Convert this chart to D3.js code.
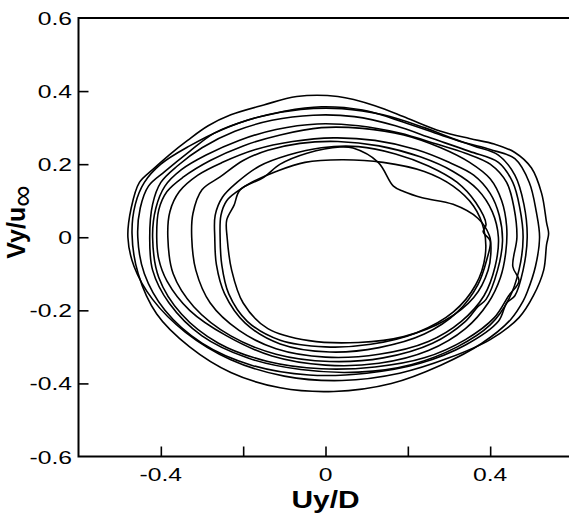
<!DOCTYPE html>
<html><head><meta charset="utf-8">
<script src="https://cdn.jsdelivr.net/npm/d3@7"></script>
<style>html,body{margin:0;padding:0;background:#fff;overflow:hidden}</style>
</head><body>
<svg id="c" width="569" height="514"></svg>
<script>
// ---- data (Uy/D, Vy/u∞), one array per orbit ----
const cycle1 = [[-0.480,0.000],[-0.472,0.080],[-0.452,0.150],[-0.420,0.185],[-0.380,0.225],[-0.335,0.265],[-0.285,0.305],[-0.230,0.335],[-0.150,0.362],[-0.070,0.385],[0.030,0.385],[0.120,0.360],[0.200,0.325],[0.280,0.290],[0.350,0.270],[0.410,0.255],[0.460,0.232],[0.500,0.190],[0.525,0.120],[0.537,0.040],[0.542,0.010],[0.537,-0.020],[0.530,-0.090],[0.505,-0.160],[0.470,-0.220],[0.400,-0.280],[0.300,-0.330],[0.180,-0.372],[0.040,-0.392],[-0.100,-0.380],[-0.230,-0.335],[-0.340,-0.260],[-0.420,-0.170],[-0.465,-0.080]];
const cycle2 = [[-0.470,0.010],[-0.462,0.090],[-0.440,0.150],[-0.400,0.200],[-0.330,0.250],[-0.250,0.295],[-0.160,0.330],[-0.060,0.350],[0.040,0.352],[0.140,0.335],[0.240,0.300],[0.330,0.262],[0.400,0.240],[0.460,0.215],[0.495,0.150],[0.512,0.070],[0.520,0.000],[0.510,-0.080],[0.490,-0.150],[0.480,-0.175],[0.450,-0.225],[0.380,-0.290],[0.280,-0.350],[0.160,-0.400],[0.020,-0.422],[-0.110,-0.412],[-0.230,-0.370],[-0.330,-0.300],[-0.410,-0.210],[-0.455,-0.100]];
const cycle3 = [[-0.456,0.000],[-0.450,0.080],[-0.430,0.140],[-0.390,0.180],[-0.330,0.235],[-0.270,0.285],[-0.190,0.320],[-0.100,0.345],[-0.010,0.357],[0.090,0.348],[0.190,0.315],[0.280,0.280],[0.360,0.250],[0.420,0.225],[0.460,0.170],[0.482,0.090],[0.490,0.000],[0.480,-0.090],[0.460,-0.160],[0.440,-0.180],[0.420,-0.230],[0.340,-0.295],[0.230,-0.345],[0.100,-0.372],[-0.040,-0.377],[-0.180,-0.350],[-0.300,-0.290],[-0.390,-0.200],[-0.440,-0.100]];
const cycle4 = [[-0.427,0.000],[-0.420,0.090],[-0.400,0.150],[-0.360,0.195],[-0.300,0.245],[-0.220,0.290],[-0.130,0.320],[-0.030,0.334],[0.070,0.330],[0.170,0.305],[0.260,0.270],[0.350,0.235],[0.420,0.205],[0.455,0.150],[0.472,0.080],[0.480,0.000],[0.470,-0.090],[0.445,-0.170],[0.400,-0.240],[0.320,-0.300],[0.210,-0.348],[0.080,-0.369],[-0.060,-0.362],[-0.190,-0.330],[-0.300,-0.270],[-0.380,-0.180],[-0.420,-0.090]];
const cycle5 = [[-0.420,0.000],[-0.412,0.080],[-0.390,0.140],[-0.350,0.185],[-0.290,0.225],[-0.210,0.265],[-0.120,0.295],[-0.020,0.310],[0.080,0.305],[0.180,0.285],[0.270,0.255],[0.340,0.230],[0.400,0.200],[0.440,0.150],[0.458,0.080],[0.465,0.000],[0.455,-0.080],[0.470,-0.120],[0.445,-0.160],[0.410,-0.220],[0.340,-0.280],[0.240,-0.330],[0.120,-0.355],[-0.010,-0.360],[-0.140,-0.340],[-0.260,-0.290],[-0.350,-0.210],[-0.405,-0.110]];
const cycle6 = [[-0.410,0.000],[-0.405,0.075],[-0.385,0.125],[-0.345,0.165],[-0.280,0.210],[-0.200,0.250],[-0.110,0.280],[-0.010,0.300],[0.090,0.298],[0.190,0.280],[0.280,0.245],[0.350,0.205],[0.400,0.160],[0.428,0.100],[0.440,0.030],[0.438,-0.040],[0.425,-0.110],[0.395,-0.180],[0.340,-0.250],[0.250,-0.310],[0.130,-0.345],[0.000,-0.350],[-0.130,-0.325],[-0.240,-0.270],[-0.330,-0.200],[-0.385,-0.120],[-0.405,-0.060]];
const cycle7 = [[-0.383,0.000],[-0.378,0.070],[-0.355,0.125],[-0.310,0.170],[-0.250,0.205],[-0.170,0.240],[-0.080,0.262],[0.020,0.272],[0.120,0.265],[0.220,0.240],[0.300,0.205],[0.360,0.170],[0.400,0.120],[0.422,0.060],[0.430,-0.010],[0.418,-0.090],[0.390,-0.170],[0.370,-0.190],[0.340,-0.230],[0.260,-0.290],[0.140,-0.330],[0.010,-0.340],[-0.120,-0.320],[-0.230,-0.270],[-0.320,-0.190],[-0.370,-0.100]];
const cycle8 = [[-0.325,0.000],[-0.322,0.065],[-0.300,0.130],[-0.256,0.165],[-0.200,0.210],[-0.140,0.238],[-0.062,0.257],[0.030,0.262],[0.130,0.250],[0.230,0.220],[0.310,0.180],[0.370,0.130],[0.405,0.070],[0.420,0.000],[0.412,-0.080],[0.385,-0.160],[0.330,-0.230],[0.250,-0.285],[0.130,-0.320],[0.000,-0.328],[-0.120,-0.305],[-0.210,-0.255],[-0.280,-0.180],[-0.315,-0.090]];
const cycle9 = [[-0.269,0.000],[-0.268,0.060],[-0.250,0.110],[-0.215,0.150],[-0.160,0.195],[-0.090,0.225],[-0.010,0.245],[0.080,0.248],[0.170,0.228],[0.250,0.195],[0.320,0.150],[0.365,0.095],[0.390,0.035],[0.383,0.015],[0.400,-0.010],[0.392,-0.060],[0.370,-0.130],[0.320,-0.205],[0.240,-0.265],[0.130,-0.302],[0.010,-0.314],[-0.110,-0.292],[-0.195,-0.235],[-0.245,-0.155],[-0.265,-0.075]];
const cycle10 = [[-0.256,0.000],[-0.254,0.060],[-0.240,0.100],[-0.215,0.125],[-0.180,0.150],[-0.120,0.180],[-0.050,0.205],[0.040,0.212],[0.140,0.205],[0.240,0.180],[0.310,0.140],[0.360,0.085],[0.385,0.020],[0.388,-0.050],[0.365,-0.130],[0.310,-0.205],[0.220,-0.262],[0.110,-0.293],[0.000,-0.300],[-0.110,-0.282],[-0.190,-0.230],[-0.235,-0.155],[-0.252,-0.075]];
const cycle11 = [[-0.239,0.000],[-0.240,0.047],[-0.222,0.088],[-0.208,0.129],[-0.150,0.164],[-0.110,0.200],[-0.045,0.230],[0.035,0.247],[0.067,0.244],[0.128,0.205],[0.165,0.140],[0.190,0.125],[0.235,0.108],[0.310,0.090],[0.370,0.052],[0.398,0.005],[0.402,-0.030],[0.395,-0.090],[0.360,-0.165],[0.290,-0.228],[0.190,-0.272],[0.080,-0.288],[-0.040,-0.283],[-0.140,-0.250],[-0.200,-0.180],[-0.228,-0.090]];
const cycles = [cycle1, cycle2, cycle3, cycle4, cycle5, cycle6, cycle7, cycle8, cycle9, cycle10, cycle11];

const xTicks = [-0.4, -0.2, 0, 0.2, 0.4];
const xTickLabels = ["-0.4", "", "0", "", "0.4"];
const yTicks = [-0.6, -0.4, -0.2, 0, 0.2, 0.4, 0.6];
const yTickLabels = ["-0.6", "-0.4", "-0.2", "0", "0.2", "0.4", "0.6"];
const xTitle = "Uy/D";
const yTitleMain = "Vy/u";
const yTitleSub = "∞";

// ---- layout ----
const svg = d3.select("#c");
const L = 78.5, R = 572.5, T = 18, B = 456.5;
const x = d3.scaleLinear().domain([-0.6, 0.6]).range([L, R]);
const y = d3.scaleLinear().domain([-0.6, 0.6]).range([B, T]);

svg.append("defs").append("clipPath").attr("id", "clip")
  .append("rect").attr("x", L).attr("y", T).attr("width", R - L).attr("height", B - T);

const line = d3.line().x(d => x(d[0])).y(d => y(d[1])).curve(d3.curveCatmullRomClosed.alpha(0.5));
svg.append("g").attr("clip-path", "url(#clip)")
  .selectAll("path").data(cycles).join("path")
  .attr("d", line).attr("fill", "none").attr("stroke", "#000")
  .attr("stroke-width", 1.6).attr("stroke-linejoin", "round");

// axes (ticks inward)
const xAxis = d3.axisBottom(x).tickValues(xTicks).tickSize(-10).tickFormat("");
const yAxis = d3.axisLeft(y).tickValues(yTicks.filter(v => Math.abs(v) < 0.6)).tickSize(-10).tickFormat("");
const gx = svg.append("g").attr("transform", `translate(0,${B})`).call(xAxis);
const gy = svg.append("g").attr("transform", `translate(${L},0)`).call(yAxis);
[gx, gy].forEach(g => {
  g.select(".domain").remove();
  g.selectAll(".tick line").attr("stroke", "#000").attr("stroke-width", 1.6);
});
svg.append("rect").attr("x", L).attr("y", T).attr("width", R - L).attr("height", B - T)
  .attr("fill", "none").attr("stroke", "#000").attr("stroke-width", 2);

const font = "'Liberation Sans', Arial, sans-serif";
const sx = 1.3;
svg.append("g").selectAll("text").data(xTicks).join("text")
  .attr("transform", (d) => `translate(${x(d)},481) scale(${sx},1)`)
  .attr("text-anchor", "middle").attr("font-family", font).attr("font-size", 19)
  .text((d, i) => xTickLabels[i]);
svg.append("g").selectAll("text").data(yTicks).join("text")
  .attr("transform", (d) => `translate(72,${y(d) + 7}) scale(${sx},1)`)
  .attr("text-anchor", "end").attr("font-family", font).attr("font-size", 19)
  .text((d, i) => yTickLabels[i]);

svg.append("text").attr("transform", `translate(${x(0)},508) scale(1.3,1)`)
  .attr("text-anchor", "middle").attr("font-family", font).attr("font-weight", "bold")
  .attr("font-size", 23).text(xTitle);

const yt = svg.append("text").attr("transform", "translate(25,222) rotate(-90)")
  .attr("text-anchor", "middle").attr("font-family", font).attr("font-weight", "bold")
  .attr("font-size", 25);
yt.append("tspan").text(yTitleMain);
yt.append("tspan").attr("dy", 7).attr("font-size", 30).attr("font-weight", "normal").text(yTitleSub);
</script>
</body></html>
